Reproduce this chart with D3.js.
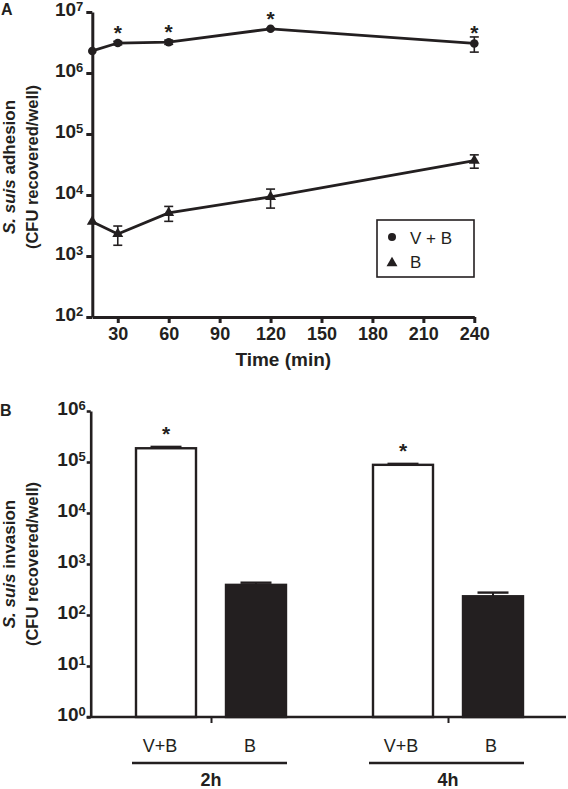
<!DOCTYPE html>
<html><head><meta charset="utf-8">
<script src="https://cdn.jsdelivr.net/npm/d3@7"></script>
<style>
body{margin:0;background:#fff}
svg{display:block}
text{font-family:"Liberation Sans",Arial,Helvetica,sans-serif;fill:#231f20}
</style>
</head><body>
<svg id="c" width="568" height="789"></svg>
<script>
// ---- Panel A data ----
const times = [15, 30, 60, 120, 240];
const vbMean = [2.3e6, 3.1e6, 3.2e6, 5.3e6, 3.05e6];
const vbErr  = [0, 0.2e6, 0.25e6, 0.1e6, 0.85e6];
const vbSig  = [false, true, true, true, true];
const bMean  = [3.65e3, 2.3e3, 5.1e3, 9.3e3, 3.65e4];
const bErr   = [0, 0.8e3, 1.4e3, 3.2e3, 0.9e4];
const xTicksA = [30, 60, 90, 120, 150, 180, 210, 240];
const yTicksA = [1e2, 1e3, 1e4, 1e5, 1e6, 1e7];
const legendA = ["V + B", "B"];

// ---- Panel B data ----
const groups = ["2h", "4h"];
const treatments = ["V+B", "B"];
const invVB    = [1.86e5, 8.8e4];
const invVBErr = [1.2e4, 4e3];
const invB     = [390, 233];
const invBErr  = [40, 42];
const invSig   = [true, false]; // per treatment: V+B significant
const yTicksB = [1, 10, 100, 1e3, 1e4, 1e5, 1e6];

const ink = "#231f20";
const svg = d3.select("#c");

function supLabels(axisG, fs, sfs, dy) {
  axisG.selectAll(".tick text").each(function(d) {
    const t = d3.select(this);
    t.text(null);
    t.append("tspan").text("10").attr("font-size", fs);
    t.append("tspan").text(Math.round(Math.log10(d))).attr("font-size", sfs).attr("dy", dy);
  });
}

// ================= Panel A =================
const xA = d3.scaleLinear().domain([15, 240]).range([92.3, 474.3]);
const yA = d3.scaleLog().domain([1e2, 1e7]).range([317, 12]);

const gA = svg.append("g");

const yAxA = gA.append("g").attr("transform", `translate(${xA(15)},0)`)
  .call(d3.axisLeft(yA).tickValues(yTicksA).tickSize(6).tickSizeOuter(0).tickPadding(3).tickFormat(d => d));
yAxA.selectAll("path,line").attr("stroke", ink).attr("stroke-width", 3);
yAxA.selectAll("text").attr("font-weight", "bold").attr("fill", ink).attr("dy", "0.36em");
supLabels(yAxA, 19, 13, -5);

const xAxA = gA.append("g").attr("transform", `translate(0,${yA(1e2)})`)
  .call(d3.axisBottom(xA).tickValues(xTicksA).tickSize(6).tickSizeOuter(0).tickPadding(4));
xAxA.selectAll("path,line").attr("stroke", ink).attr("stroke-width", 3);
xAxA.selectAll("text").attr("font-size", 18).attr("font-weight", "bold").attr("fill", ink).attr("font-family", null);

gA.append("text").attr("x", xA(127.5)).attr("y", 366).attr("text-anchor", "middle")
  .attr("font-size", 19).attr("font-weight", "bold").text("Time (min)");

// y title A
const ytA = gA.append("text").attr("transform", "translate(15,167) rotate(-90)")
  .attr("text-anchor", "middle").attr("font-size", 17).attr("font-weight", "bold");
ytA.append("tspan").attr("font-style", "italic").text("S. suis");
ytA.append("tspan").text(" adhesion");
gA.append("text").attr("transform", "translate(38,167) rotate(-90)")
  .attr("text-anchor", "middle").attr("font-size", 16.5).attr("font-weight", "bold")
  .text("(CFU recovered/well)");

gA.append("text").attr("x", 1).attr("y", 15).attr("font-size", 16).attr("font-weight", "bold").text("A");

const line = d3.line().x(d => xA(d.t)).y(d => yA(d.m));
function series(means, errs) { return times.map((t, i) => ({t, m: means[i], e: errs[i]})); }
const sVB = series(vbMean, vbErr), sB = series(bMean, bErr);

[sVB, sB].forEach(s => {
  gA.append("path").datum(s).attr("d", line).attr("fill", "none").attr("stroke", ink).attr("stroke-width", 2.8);
  const eb = gA.append("g").selectAll("g").data(s.filter(d => d.e > 0)).join("g");
  eb.append("line").attr("x1", d => xA(d.t)).attr("x2", d => xA(d.t))
    .attr("y1", d => yA(d.m + d.e)).attr("y2", d => yA(d.m - d.e)).attr("stroke", ink).attr("stroke-width", 1.6);
  ["+", "-"].forEach(sg => {
    eb.append("line").attr("x1", d => xA(d.t) - 4.5).attr("x2", d => xA(d.t) + 4.5)
      .attr("y1", d => yA(sg === "+" ? d.m + d.e : d.m - d.e)).attr("y2", d => yA(sg === "+" ? d.m + d.e : d.m - d.e))
      .attr("stroke", ink).attr("stroke-width", 1.6);
  });
});
gA.append("g").selectAll("circle").data(sVB).join("circle")
  .attr("cx", d => xA(d.t)).attr("cy", d => yA(d.m)).attr("r", 4.3).attr("fill", ink);
const tri = d3.symbol().type(d3.symbolTriangle).size(52);
gA.append("g").selectAll("path").data(sB).join("path")
  .attr("transform", d => `translate(${xA(d.t)},${yA(d.m)})`).attr("d", tri).attr("fill", ink);
gA.append("g").selectAll("text").data(sVB.filter((d, i) => vbSig[i])).join("text")
  .attr("x", d => xA(d.t)).attr("y", d => yA(d.m) - 14 + 11).attr("text-anchor", "middle")
  .attr("font-size", 21).attr("font-weight", "bold").text("*");

// legend
const lg = gA.append("g");
lg.append("rect").attr("x", 377).attr("y", 220).attr("width", 97).attr("height", 57)
  .attr("fill", "#fff").attr("stroke", ink).attr("stroke-width", 1.6);
lg.append("circle").attr("cx", 392).attr("cy", 237).attr("r", 4).attr("fill", ink);
lg.append("path").attr("transform", "translate(392,263)").attr("d", tri).attr("fill", ink);
lg.append("text").attr("x", 410).attr("y", 243.5).attr("font-size", 17).text(legendA[0]);
lg.append("text").attr("x", 410).attr("y", 268).attr("font-size", 17).text(legendA[1]);

// ================= Panel B =================
const yB = d3.scaleLog().domain([1, 1e6]).range([717, 411]);
const xG = d3.scalePoint().domain(groups).range([211, 448]);
const xT = d3.scaleBand().domain(treatments).range([-75, 75]).paddingInner(1/3).paddingOuter(0);
const axB = 90.7;

const gB = svg.append("g");
gB.append("text").attr("x", 0).attr("y", 416).attr("font-size", 16).attr("font-weight", "bold").text("B");

const barData = [];
groups.forEach((g, gi) => {
  barData.push({g, tr: "V+B", v: invVB[gi], e: invVBErr[gi], sig: invSig[0]});
  barData.push({g, tr: "B", v: invB[gi], e: invBErr[gi], sig: invSig[1]});
});
const bx = d => xG(d.g) + xT(d.tr);

// error bars (upper)
const ebB = gB.append("g").selectAll("g").data(barData).join("g");
ebB.append("line").attr("x1", d => bx(d) + xT.bandwidth()/2).attr("x2", d => bx(d) + xT.bandwidth()/2)
  .attr("y1", d => yB(d.v)).attr("y2", d => yB(d.v + d.e)).attr("stroke", ink).attr("stroke-width", 2);
ebB.append("line").attr("x1", d => bx(d) + xT.bandwidth()/2 - 15.5).attr("x2", d => bx(d) + xT.bandwidth()/2 + 15.5)
  .attr("y1", d => yB(d.v + d.e)).attr("y2", d => yB(d.v + d.e)).attr("stroke", ink).attr("stroke-width", 2.4);

gB.append("g").selectAll("rect").data(barData).join("rect")
  .attr("x", d => bx(d)).attr("width", xT.bandwidth())
  .attr("y", d => yB(d.v)).attr("height", d => yB(1) - yB(d.v))
  .attr("fill", d => d.tr === "B" ? ink : "#fff").attr("stroke", ink).attr("stroke-width", 2.4);

gB.append("g").selectAll("text").data(barData.filter(d => d.sig)).join("text")
  .attr("x", d => bx(d) + xT.bandwidth()/2).attr("y", d => yB(d.v) - 18 + 11).attr("text-anchor", "middle")
  .attr("font-size", 21).attr("font-weight", "bold").text("*");

const yAxB = gB.append("g").attr("transform", `translate(${axB},0)`)
  .call(d3.axisLeft(yB).tickValues(yTicksB).tickSize(4).tickSizeOuter(0).tickPadding(1).tickFormat(d => d));
yAxB.selectAll("path,line").attr("stroke", ink).attr("stroke-width", 2.6);
yAxB.selectAll("text").attr("font-weight", "bold").attr("fill", ink).attr("dy", "0.36em");
supLabels(yAxB, 19, 13, -5);

// x axis B
gB.append("line").attr("x1", axB - 4).attr("x2", 566).attr("y1", yB(1)).attr("y2", yB(1))
  .attr("stroke", ink).attr("stroke-width", 2.6);
const xAxB = gB.append("g").attr("transform", `translate(0,${yB(1)})`)
  .call(d3.axisBottom(xG).tickSize(6).tickSizeOuter(0).tickFormat(""));
xAxB.select(".domain").remove();
xAxB.selectAll("line").attr("stroke", ink).attr("stroke-width", 2);

gB.append("g").selectAll("text").data(barData).join("text")
  .attr("x", d => bx(d) + xT.bandwidth()/2 - (d.g === groups[0] ? 6 : 2)).attr("y", 752)
  .attr("text-anchor", "middle").attr("font-size", 18).text(d => d.tr);

groups.forEach(g => {
  gB.append("line").attr("x1", xG(g) + xT("V+B") - 4).attr("x2", xG(g) + xT("B") + xT.bandwidth() + 1)
    .attr("y1", 763).attr("y2", 763).attr("stroke", ink).attr("stroke-width", 2.6);
  gB.append("text").attr("x", xG(g)).attr("y", 786).attr("text-anchor", "middle")
    .attr("font-size", 18).attr("font-weight", "bold").text(g);
});

const ytB = gB.append("text").attr("transform", "translate(15,564) rotate(-90)")
  .attr("text-anchor", "middle").attr("font-size", 17).attr("font-weight", "bold");
ytB.append("tspan").attr("font-style", "italic").text("S. suis");
ytB.append("tspan").text(" invasion");
gB.append("text").attr("transform", "translate(38,564) rotate(-90)")
  .attr("text-anchor", "middle").attr("font-size", 16.5).attr("font-weight", "bold")
  .text("(CFU recovered/well)");
</script>
</body></html>
